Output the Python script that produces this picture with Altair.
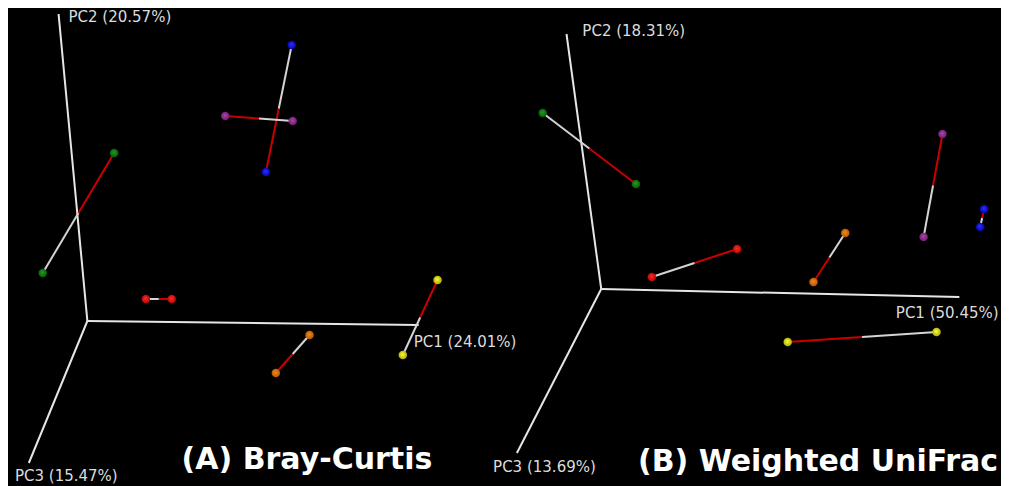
import altair as alt
import pandas as pd

# ---- data (screen-projected PCoA coordinates) ----
panels = ["A", "B"]
origin_x = [88, 606]
origin_y = [321, 289]
pc1_end_x = [422, 967]
pc1_end_y = [325, 297]
pc2_end_x = [59, 571]
pc2_end_y = [14, 34]
pc3_end_x = [29, 521]
pc3_end_y = [463, 453]

axis_labels = ["PC1 (24.01%)", "PC2 (20.57%)", "PC3 (15.47%)",
               "PC1 (50.45%)", "PC2 (18.31%)", "PC3 (13.69%)"]
axis_label_x = [417, 69, 15, 903, 587, 497]
axis_label_y = [342, 16.5, 476, 313, 31, 467]

titles = ["(A) Bray-Curtis", "(B) Weighted UniFrac"]
title_x = [183, 643]
title_y = [460, 462]

# paired samples: each pair joined by a line, red half at the "r" end, white half at the "w" end
pair_panel = ["A", "A", "A", "A", "A", "A", "B", "B", "B", "B", "B", "B"]
pair_group = ["blue", "purple", "green", "red", "orange", "yellow",
              "green", "purple", "blue", "red", "orange", "yellow"]
r_x = [268, 227, 115, 173, 278, 441, 641, 950, 992, 743, 820, 794]
r_y = [172, 116, 153, 299, 373, 280, 184, 134, 209, 249, 282, 342]
w_x = [294, 295, 43, 147, 312, 406, 547, 931, 988, 657, 852, 944]
w_y = [45, 121, 273, 299, 335, 355, 113, 237, 227, 277, 233, 332]

group_names = ["blue", "purple", "green", "red", "orange", "yellow"]
group_light = ["#3030ff", "#b048b0", "#20a020", "#ff3030", "#f88a20", "#ffff40"]
group_dark = ["#0000a8", "#681868", "#085808", "#b00000", "#b05400", "#a8a800"]

# ---- tables ----
axes_df = pd.DataFrame({
    "panel": panels * 3,
    "x": origin_x * 3,
    "y": origin_y * 3,
    "x2": pc1_end_x + pc2_end_x + pc3_end_x,
    "y2": pc1_end_y + pc2_end_y + pc3_end_y,
})
labels_df = pd.DataFrame({"text": axis_labels, "x": axis_label_x, "y": axis_label_y})
titles_df = pd.DataFrame({"text": titles, "x": title_x, "y": title_y})
pairs_df = pd.DataFrame({"panel": pair_panel, "group": pair_group,
                         "rx": r_x, "ry": r_y, "wx": w_x, "wy": w_y})
points_df = pd.concat([
    pd.DataFrame({"group": pair_group, "x": r_x, "y": r_y}),
    pd.DataFrame({"group": pair_group, "x": w_x, "y": w_y}),
], ignore_index=True)

xs = alt.Scale(domain=[8, 1009], nice=False, zero=False)
ys = alt.Scale(domain=[8, 486], nice=False, zero=False, reverse=True)

axes_layer = alt.Chart(axes_df).mark_rule(color="#e6e6e6", strokeWidth=2).encode(
    x=alt.X("x:Q", scale=xs, axis=None),
    y=alt.Y("y:Q", scale=ys, axis=None),
    x2="x2:Q", y2="y2:Q",
)

base_pairs = alt.Chart(pairs_df).transform_calculate(
    mx="(datum.rx + datum.wx) / 2", my="(datum.ry + datum.wy) / 2"
)
red_half = base_pairs.mark_rule(color="#c80000", strokeWidth=2).encode(
    x=alt.X("rx:Q", scale=xs, axis=None),
    y=alt.Y("ry:Q", scale=ys, axis=None),
    x2="mx:Q", y2="my:Q",
)
white_half = base_pairs.mark_rule(color="#d4d4d4", strokeWidth=2).encode(
    x=alt.X("mx:Q", scale=xs, axis=None),
    y=alt.Y("my:Q", scale=ys, axis=None),
    x2="wx:Q", y2="wy:Q",
)

# shaded spheres: one layer per colour with a radial gradient fill
point_layers = []
for name, light, dark in zip(group_names, group_light, group_dark):
    grad = alt.RadialGradient(
        gradient="radial",
        x1=0.45, y1=0.4, r1=0.0,
        x2=0.5, y2=0.5, r2=0.55,
        stops=[alt.GradientStop(offset=0, color=light),
               alt.GradientStop(offset=1, color=dark)],
    )
    point_layers.append(
        alt.Chart(points_df).transform_filter(alt.datum.group == name)
        .mark_circle(size=72, opacity=1, fill=grad, strokeWidth=0)
        .encode(
            x=alt.X("x:Q", scale=xs, axis=None),
            y=alt.Y("y:Q", scale=ys, axis=None),
        )
    )

labels_layer = alt.Chart(labels_df).mark_text(
    align="left", baseline="middle", font="DejaVu Sans", fontSize=15, color="#dcdcdc"
).encode(
    x=alt.X("x:Q", scale=xs, axis=None),
    y=alt.Y("y:Q", scale=ys, axis=None),
    text="text:N",
)

titles_layer = alt.Chart(titles_df).mark_text(
    align="left", baseline="middle", font="DejaVu Sans", fontSize=30, fontWeight="bold",
    color="#ffffff"
).encode(
    x=alt.X("x:Q", scale=xs, axis=None),
    y=alt.Y("y:Q", scale=ys, axis=None),
    text="text:N",
)

chart = alt.layer(
    axes_layer, red_half, white_half, *point_layers, labels_layer, titles_layer
).properties(
    width=993, height=478,
    autosize=alt.AutoSizeParams(type="none"),
    padding=0,
    background="#000000",
).configure_view(stroke=None, fill="#000000")

chart.save("out.html", embed_options={"renderer": "svg", "actions": False})
